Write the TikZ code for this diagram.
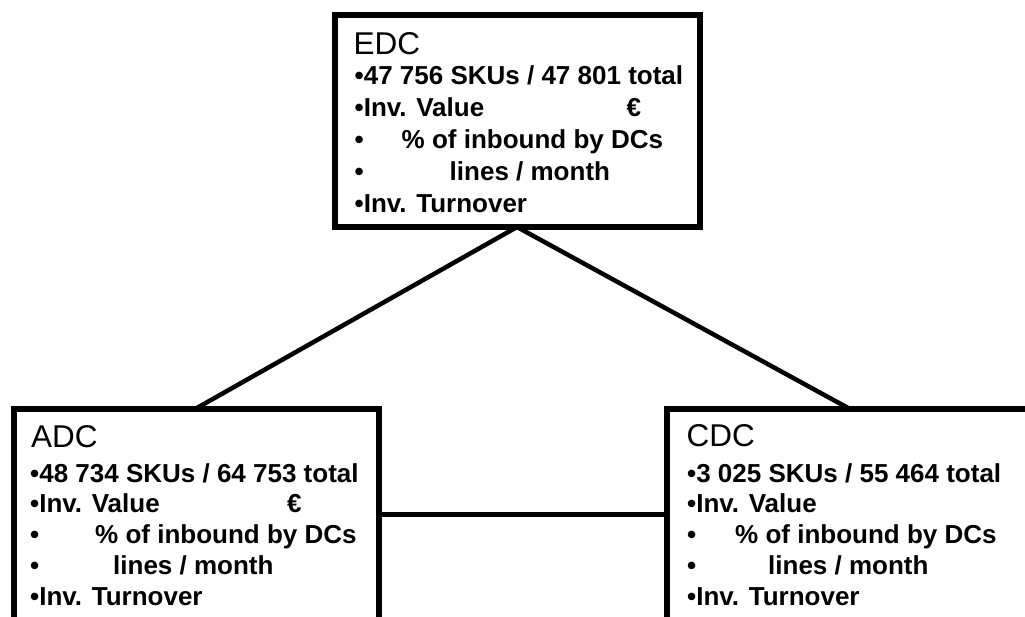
\documentclass[tikz,border=0pt]{standalone}
\usepackage{fontspec}
\setmainfont{Liberation Sans}
\begin{document}
\begin{tikzpicture}[x=1pt,y=-1pt,
  dcbox/.style={rectangle, draw, line width=6pt, fill=white,
    minimum width=365pt, minimum height=212pt, inner sep=0pt, outer sep=0pt},
  link/.style={line width=4.5pt},
  titletext/.style={anchor=base west, inner sep=0pt,
    font=\fontsize{31.5}{36}\selectfont},
  itemtext/.style={anchor=base west, inner sep=0pt,
    font=\bfseries\fontsize{26}{30}\selectfont},
]
\useasboundingbox (0,0) rectangle (1025,617);
\clip (0,0) rectangle (1025,617);

% distribution centres
\node[dcbox] (EDC) at (517,121) {};
\node[dcbox] (ADC) at (196,514.5) {};
\node[dcbox] (CDC) at (849,514.5) {};

% links between the centres
\draw[link] (EDC.south) -- (ADC.north);
\draw[link] (EDC.south) -- (CDC.north);
\draw[link] (ADC.east) -- (CDC.west);

% EDC figures
\node[titletext] (EDC-t) at ([shift={(19,40)}]EDC.north west) {EDC};
\node[itemtext] (EDC-1) at ([shift={(20,70)}]EDC.north west) {•47 756 SKUs / 47 801 total};
\node[itemtext] (EDC-2) at ([shift={(20,102)}]EDC.north west) {\makebox[272pt][l]{•Inv. Value}€};
\node[itemtext] (EDC-3) at ([shift={(20,134)}]EDC.north west) {\makebox[47pt][l]{•}\% of inbound by DCs};
\node[itemtext] (EDC-4) at ([shift={(20,166)}]EDC.north west) {\makebox[95pt][l]{•}lines / month};
\node[itemtext] (EDC-5) at ([shift={(20,198)}]EDC.north west) {•Inv. Turnover};

% ADC figures
\node[titletext] (ADC-t) at ([shift={(17.5,38.5)}]ADC.north west) {ADC};
\node[itemtext] (ADC-1) at ([shift={(16.5,73.5)}]ADC.north west) {•48 734 SKUs / 64 753 total};
\node[itemtext] (ADC-2) at ([shift={(16.5,104.25)}]ADC.north west) {\makebox[257pt][l]{•Inv. Value}€};
\node[itemtext] (ADC-3) at ([shift={(16.5,135)}]ADC.north west) {\makebox[65pt][l]{•}\% of inbound by DCs};
\node[itemtext] (ADC-4) at ([shift={(16.5,165.75)}]ADC.north west) {\makebox[83pt][l]{•}lines / month};
\node[itemtext] (ADC-5) at ([shift={(16.5,196.5)}]ADC.north west) {•Inv. Turnover};

% CDC figures
\node[titletext] (CDC-t) at ([shift={(20,37.5)}]CDC.north west) {CDC};
\node[itemtext] (CDC-1) at ([shift={(20.5,73.5)}]CDC.north west) {•3 025 SKUs / 55 464 total};
\node[itemtext] (CDC-2) at ([shift={(20.5,104.25)}]CDC.north west) {•Inv. Value};
\node[itemtext] (CDC-3) at ([shift={(20.5,135)}]CDC.north west) {\makebox[48pt][l]{•}\% of inbound by DCs};
\node[itemtext] (CDC-4) at ([shift={(20.5,165.75)}]CDC.north west) {\makebox[81pt][l]{•}lines / month};
\node[itemtext] (CDC-5) at ([shift={(20.5,196.5)}]CDC.north west) {•Inv. Turnover};
\end{tikzpicture}
\end{document}
